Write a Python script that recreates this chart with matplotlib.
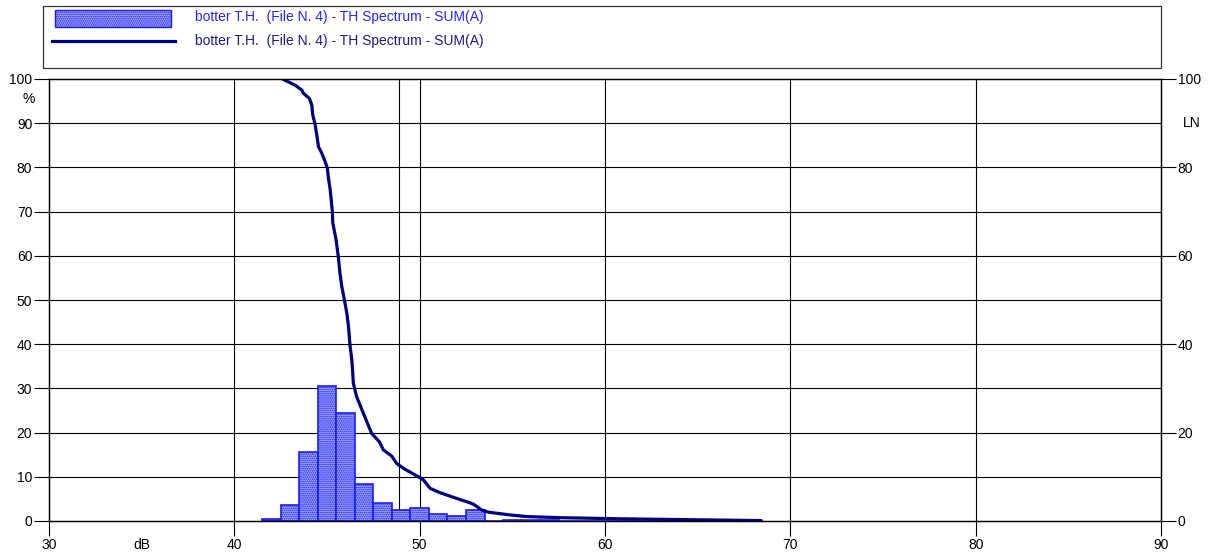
import matplotlib
matplotlib.use("Agg")
import matplotlib.pyplot as plt
from matplotlib.patches import Rectangle
from matplotlib.lines import Line2D

plt.rcParams['font.family'] = ['Liberation Sans', 'DejaVu Sans']
plt.rcParams['hatch.linewidth'] = 0.8

# ---- data ----
bar_db = [42, 43, 44, 45, 46, 47, 48, 49, 50, 51, 52, 53, 54, 55, 56, 57,
          58, 59, 60, 61, 62, 63, 64, 65, 66, 67, 68]
bar_pct = [0.4, 3.6, 15.7, 30.6, 24.4, 8.3, 4.1, 2.5, 2.9, 1.6, 1.2, 2.5, 0.1, 0.3, 0.3, 0.3,
           0.1, 0.1, 0.1, 0.1, 0.1, 0.1, 0.1, 0.1, 0.1, 0.1, 0.1]

curve_db = [42.6, 43.28, 43.64, 43.72, 44.05, 44.18, 44.23, 44.36, 44.45, 44.54, 44.72, 44.9,
            45.02, 45.08, 45.16, 45.22, 45.29, 45.31, 45.49, 45.61, 45.7, 45.8, 45.94, 46.07,
            46.16, 46.24, 46.34, 46.39, 46.42, 46.6, 46.96, 47.41, 47.83, 48.04, 48.49, 48.76,
            49.21, 49.93, 50.2, 50.56, 51.1, 52.0, 52.72, 52.9, 53.35, 53.7, 54.9, 55.8, 57.6,
            60.8, 64.5, 68.4]
curve_ln = [100.0, 98.6, 97.5, 96.8, 95.6, 94.1, 91.9, 89.6, 87.3, 84.7, 83.2, 81.3,
            79.8, 77.5, 75.3, 73.0, 70.0, 67.5, 63.6, 59.8, 56.0, 53.0, 50.0, 47.0,
            44.0, 39.8, 36.4, 33.4, 31.2, 28.1, 24.4, 19.8, 17.9, 16.1, 14.7, 13.0,
            11.7, 10.0, 9.3, 7.4, 6.4, 5.1, 4.1, 3.8, 2.5, 2.0, 1.36, 1.0, 0.75,
            0.5, 0.3, 0.1]

marker_db = 48.9
x_ticks = [30, 40, 50, 60, 70, 80, 90]
left_ticks = list(range(0, 101, 10))
right_ticks = list(range(0, 101, 20))
legend_label = "botter T.H.  (File N. 4) - TH Spectrum - SUM(A)"

W, H = 1210, 555
fig = plt.figure(figsize=(W / 100, H / 100), dpi=100)
L, R, T, B = 49, 1161, 79, 521
ax = fig.add_axes([L / W, 1 - B / H, (R - L) / W, (B - T) / H])

ax.set_xlim(30, 90)
ax.set_ylim(0, 100)

bar_face = '#a3abf7'
bar_edge = '#1a1aff'

# grid
for y in left_ticks[1:-1]:
    ax.axhline(y, color='black', lw=0.8, zorder=1)
for x in x_ticks[1:-1] + [marker_db]:
    ax.axvline(x, color='black', lw=0.8, zorder=1)

# bars
ax.bar(bar_db, bar_pct, width=1.0, align='center', facecolor=bar_face,
       edgecolor=bar_edge, hatch='........', linewidth=1.2, zorder=2)

# curve
ax.plot(curve_db, curve_ln, color='#000080', lw=2.3, zorder=3,
        solid_joinstyle='round')

fs = 10
ax.set_xticks(x_ticks)
ax.set_xticklabels([str(v) for v in x_ticks], fontsize=fs)
ax.set_yticks(left_ticks)
ax.set_yticklabels([str(v) for v in left_ticks], fontsize=fs)
ax.tick_params(axis='both', direction='out', length=11, width=0.8, pad=1, colors='black')

ax2 = ax.twinx()
ax2.set_ylim(0, 100)
ax2.set_yticks(right_ticks)
ax2.set_yticklabels([str(v) for v in right_ticks], fontsize=fs)
ax2.tick_params(axis='y', direction='out', length=11, width=0.8, pad=1)

for a in (ax, ax2):
    for s in a.spines.values():
        s.set_linewidth(0.9)
        s.set_color('black')

# axis unit labels
ax.text(-0.013, 0.955, '%', transform=ax.transAxes, ha='right', va='center', fontsize=fs)
ax.text(1.02, 0.90, 'LN', transform=ax.transAxes, ha='left', va='center', fontsize=fs)
ax.text(35, -5.5, 'dB', ha='center', va='center', fontsize=fs)

# legend box (pixel coordinates)
lax = fig.add_axes([0, 0, 1, 1], zorder=-1)
lax.set_xlim(0, W)
lax.set_ylim(H, 0)
lax.axis('off')
lax.add_patch(Rectangle((43, 6), 1118, 62, facecolor='white', edgecolor='#333333', lw=0.9))
lax.add_patch(Rectangle((55, 10), 116, 17, facecolor=bar_face, edgecolor=bar_edge,
                        hatch='........', lw=1.0))
lax.add_line(Line2D([52, 175], [41, 41], color='#000080', lw=2.3))
lax.text(195, 17, legend_label, color='#2626ff', fontsize=fs, va='center', ha='left')
lax.text(195, 41, legend_label, color='#1a1a8c', fontsize=fs, va='center', ha='left')

fig.savefig('out.png', dpi=100)
